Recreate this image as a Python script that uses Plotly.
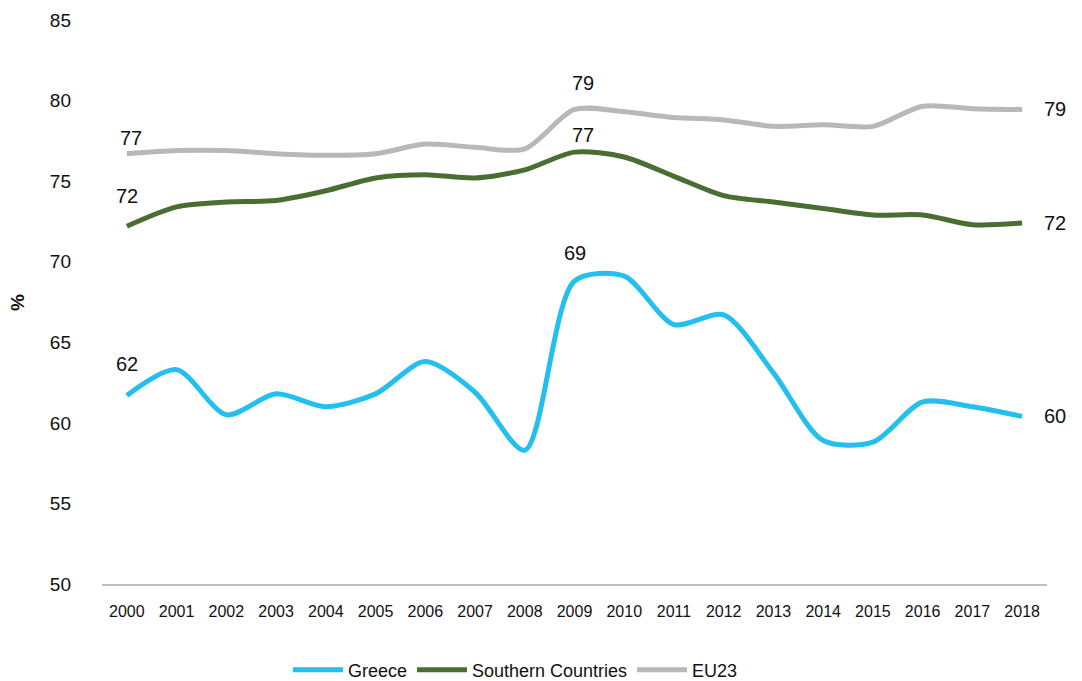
import plotly.graph_objects as go

years = [str(y) for y in range(2000, 2019)]
greece = [61.7, 63.3, 60.5, 61.8, 61.0, 61.8, 63.8, 61.9, 58.3, 68.8, 69.1, 66.1, 66.7, 63.1, 58.9, 58.8, 61.3, 61.0, 60.4]
southern = [72.2, 73.4, 73.7, 73.8, 74.4, 75.2, 75.4, 75.2, 75.7, 76.8, 76.5, 75.3, 74.1, 73.7, 73.3, 72.9, 72.9, 72.3, 72.4]
eu23 = [76.7, 76.9, 76.9, 76.7, 76.6, 76.7, 77.3, 77.1, 77.0, 79.45, 79.3, 78.95, 78.8, 78.4, 78.5, 78.4, 79.65, 79.5, 79.45]

label_idx = [0, 9, 18]
series = [
    ("Greece", greece, "#23BFEE"),
    ("Southern Countries", southern, "#4A6E31"),
    ("EU23", eu23, "#B8B8B8"),
]
# label offsets (pixels) for labels at 2000, 2009, 2018
label_shift = {
    "Greece": [(0, 31), (0, 28), (20, 0)],
    "Southern Countries": [(0, 30), (8, 17), (20, 0)],
    "EU23": [(4, 16), (8, 26), (20, 0)],
}

FONT = "Liberation Sans, Arial, sans-serif"
fig = go.Figure()
annotations = []
for name, vals, color in series:
    fig.add_trace(go.Scatter(
        x=years, y=vals, name=name, mode="lines",
        line=dict(color=color, width=5, shape="spline", smoothing=0.8),
    ))
    for k, i in enumerate(label_idx):
        dx, dy = label_shift[name][k]
        last = i == len(vals) - 1
        annotations.append(dict(
            x=i, y=vals[i], xref="x", yref="y", text=f"{round(vals[i]):.0f}", showarrow=False,
            xanchor="left" if last else "center", yanchor="middle",
            xshift=dx, yshift=dy, font=dict(size=20, color="#111111", family=FONT),
        ))

annotations.append(dict(text="<b>%</b>", x=-0.09, xref="paper", y=0.5, yref="paper",
                        xanchor="center", yanchor="middle",
                        textangle=-90, showarrow=False, font=dict(size=19, color="#111111")))

fig.update_layout(
    width=1082, height=681,
    margin=dict(l=94, r=43, t=12, b=105),
    paper_bgcolor="white", plot_bgcolor="white",
    font=dict(family=FONT, color="#111111"),
    showlegend=True,
    legend=dict(orientation="h", x=0.469, xanchor="center", xref="container",
                y=(681 - 662) / 681, yanchor="middle", yref="container",
                font=dict(size=18, family=FONT), itemwidth=50, traceorder="normal"),
    xaxis=dict(type="category", range=[-0.5, 18.5], showgrid=False, showline=True,
               linecolor="#BFBFBF", linewidth=2, ticks="", tickfont=dict(size=16),
               ticklabelstandoff=12, zeroline=False, automargin=False),
    yaxis=dict(range=[50, 85], dtick=5, showgrid=False, showline=False, zeroline=False,
               ticks="", tickfont=dict(size=19), ticklabelstandoff=30, automargin=False),
    annotations=annotations,
)

fig.write_html("out.html")
